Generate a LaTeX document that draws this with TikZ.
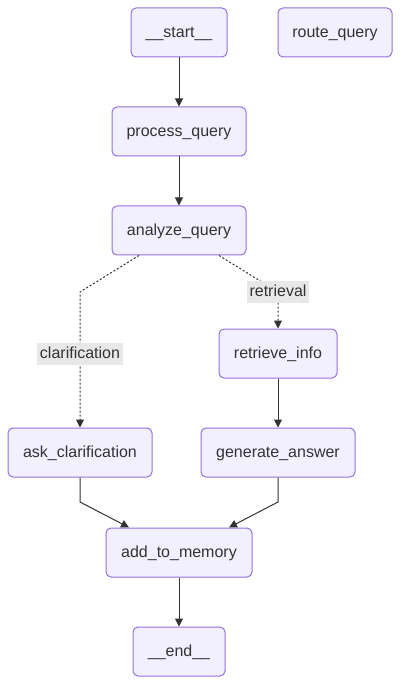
\documentclass[tikz,border=0pt]{standalone}
\usepackage{fontspec}
\setmainfont{Liberation Sans}
\usetikzlibrary{arrows.meta}
\definecolor{boxfill}{HTML}{F2F0FF}
\definecolor{boxline}{HTML}{9370DB}
\definecolor{ink}{HTML}{333333}
\definecolor{labelgray}{HTML}{E8E8E8}
\begin{document}
\begin{tikzpicture}[x=1pt,y=-1pt,
  stepbox/.style={draw=boxline,fill=boxfill,line width=1pt,rounded corners=5pt,
    minimum height=49pt,inner sep=0pt,text=ink,text height=13pt,text depth=3pt,
    font=\fontsize{16}{19}\selectfont},
  flow/.style={draw=ink,line width=1pt,-{Triangle[length=8pt,width=8pt]}},
  cond/.style={flow,dash pattern=on 2pt off 2pt},
  edgelabel/.style={fill=labelgray,text=ink,inner xsep=3pt,inner ysep=3pt,
    text height=13pt,text depth=3pt,font=\fontsize{16}{19}\selectfont}]
\useasboundingbox (0,0) rectangle (401,684);

% graph nodes
\node[stepbox,minimum width=96pt]  (start)    at (179,32.5)  {\_\_start\_\_};
\node[stepbox,minimum width=114pt] (route)    at (335,32.5)  {route\_query};
\node[stepbox,minimum width=134pt] (process)  at (179,131.5) {process\_query};
\node[stepbox,minimum width=134pt] (analyze)  at (179,230.5) {analyze\_query};
\node[stepbox,minimum width=118pt] (retrieve) at (278,353.5) {retrieve\_info};
\node[stepbox,minimum width=144pt] (ask)      at (80,452.5)  {ask\_clarification};
\node[stepbox,minimum width=154pt] (generate) at (278,452.5) {generate\_answer};
\node[stepbox,minimum width=146pt] (memory)   at (179,552.5) {add\_to\_memory};
\node[stepbox,minimum width=92pt]  (finish)   at (179,651.5) {\_\_end\_\_};

% bend points
\coordinate (clarbend) at (80,292);
\coordinate (retrbend) at (278,292);
\coordinate (askbend)  at (80,502);
\coordinate (genbend)  at (278,502);

% plain edges
\draw[flow] (start) -- (process);
\draw[flow] (process) -- (analyze);
\draw[flow] (retrieve) -- (generate);
\draw[flow] (memory) -- (finish);
\draw[flow] (ask.south) -- (askbend) -- ([xshift=-50pt]memory.north);
\draw[flow] (generate.south) -- (genbend) -- ([xshift=50pt]memory.north);

% conditional edges
\draw[cond] ([xshift=-40pt]analyze.south) -- (clarbend) -- (ask.north);
\draw[cond] ([xshift=40pt]analyze.south) -- (retrbend) -- (retrieve.north);

% edge labels
\node[edgelabel] (clarlabel) at (80,353.5) {clarification};
\node[edgelabel] (retrlabel) at (278,291.5) {retrieval};
\end{tikzpicture}
\end{document}
